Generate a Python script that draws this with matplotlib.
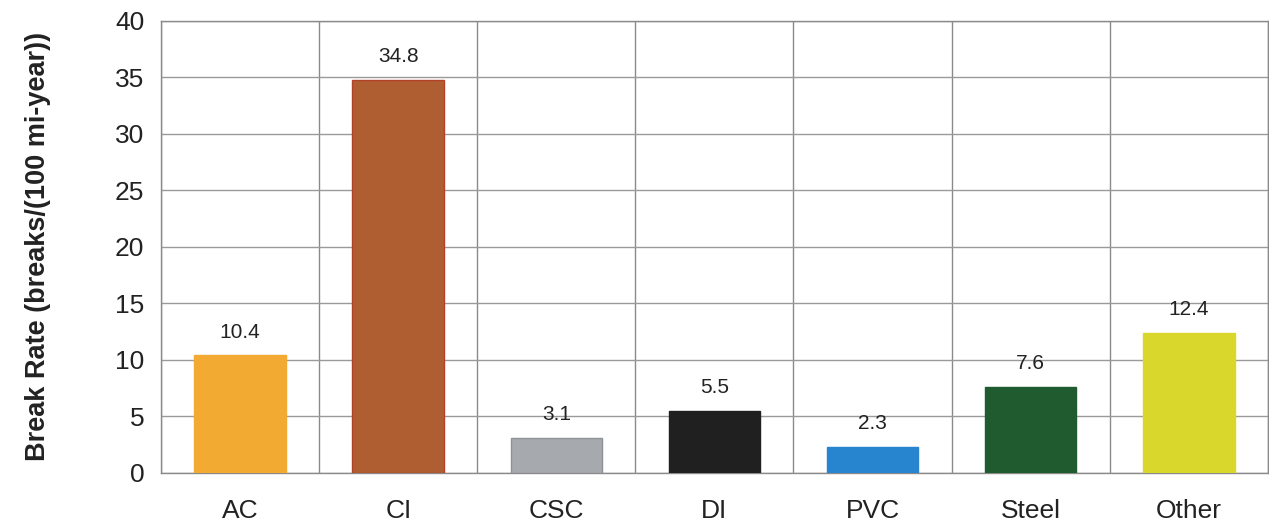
import matplotlib
matplotlib.use("Agg")
import matplotlib.pyplot as plt
import numpy as np

categories = ["AC", "CI", "CSC", "DI", "PVC", "Steel", "Other"]
values = [10.4, 34.8, 3.1, 5.5, 2.3, 7.6, 12.4]
labels = ["10.4", "34.8", "3.1", "5.5", "2.3", "7.6", "12.4"]
colors = ["#F2AA32", "#AF5E31", "#A6A9AE", "#1F201F", "#2784CE", "#1F5B2F", "#D9D72B"]
edge_colors = ["#F2AA32", "#B2432A", "#8E9196", "#1F201F", "#2784CE", "#1F5B2F", "#D9D72B"]
yticks = [0, 5, 10, 15, 20, 25, 30, 35, 40]

plt.rcParams['font.family'] = ['Liberation Sans', 'DejaVu Sans']

fig = plt.figure(figsize=(12.69, 5.23), dpi=100)
ax = fig.add_axes([0.127, 0.096, 0.872, 0.864])

x = np.arange(len(categories))
ax.bar(x, values, width=0.58, color=colors, edgecolor=edge_colors, linewidth=1, zorder=3)
for xi, v, t in zip(x, values, labels):
    ax.text(xi, v + 1.2, t, ha="center", va="bottom", fontsize=15, color="#222222", zorder=4)

ax.set_xlim(-0.5, len(categories) - 0.5)
ax.set_ylim(0, 40)
ax.set_yticks(yticks)
ax.set_yticklabels([str(t) for t in yticks], fontsize=19, color="#222222")
ax.set_xticks(x)
ax.set_xticklabels(categories, fontsize=19, color="#222222")
ax.tick_params(axis="both", length=0)
ax.tick_params(axis="x", pad=19)
ax.tick_params(axis="y", pad=12)

ax.set_xticks(np.arange(-0.5, len(categories) + 0.5, 1.0), minor=True)
ax.grid(True, axis="y", which="major", color="#9a9a9a", linewidth=1, zorder=0)
ax.grid(True, axis="x", which="minor", color="#8a8a8a", linewidth=1, zorder=0)
ax.tick_params(axis="x", which="minor", length=0)

for s in ax.spines.values():
    s.set_color("#8a8a8a")
    s.set_linewidth(1)

ax.set_ylabel("Break Rate (breaks/(100 mi-year))", fontsize=19.5, fontweight="bold", color="#222222", labelpad=46)

fig.savefig("out.png", dpi=100)
